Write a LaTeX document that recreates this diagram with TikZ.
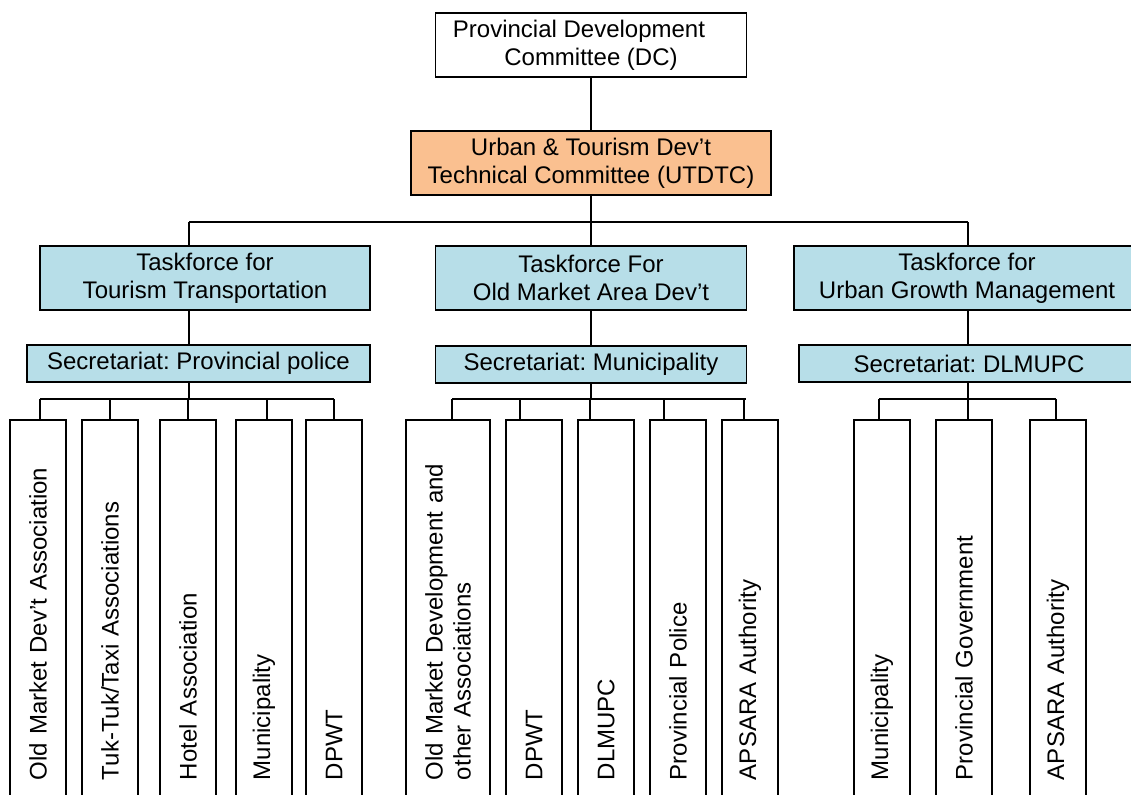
\documentclass[tikz,border=0pt]{standalone}
\usepackage{fontspec}
\setmainfont{Liberation Sans}
\usepackage{tikz}
\usetikzlibrary{positioning}

\definecolor{utdtcorange}{HTML}{FAC090}
\definecolor{tfblue}{HTML}{B7DEE8}
\frenchspacing

\begin{document}
\begin{tikzpicture}[x=0.5pt,y=-0.5pt,font=\fontsize{12}{14}\selectfont]
    \tikzset{
      box/.style={draw, line width=0.9pt, align=center, inner sep=0pt},
      tf/.style={box, fill=tfblue, minimum height=32pt},
      sec/.style={box, fill=tfblue, minimum height=18.5pt},
      member/.style={draw, line width=0.9pt, rotate=90, align=left, minimum height=28pt,
        inner xsep=15pt, inner ysep=1pt, text width=165pt},
      link/.style={line width=0.9pt}
    }
    \useasboundingbox (0,0) rectangle (1131,794);
    \clip (0,0) rectangle (1131,794);

    % committees
    \node[box, minimum width=155.5pt, minimum height=32pt] (dc) at (591,45)
      {Provincial Development\hspace*{12pt}\\Committee (DC)};
    \node[box, fill=utdtcorange, minimum width=180pt, minimum height=32pt, below=26pt of dc] (utdtc)
      {Urban \& Tourism Dev’t\\Technical Committee (UTDTC)};

    % taskforces and their secretariats
    \node[tf, minimum width=165pt] (tf1) at (205,278) {Taskforce for\\Tourism Transportation};
    \node[tf, minimum width=155.5pt] (tf2) at (591,278) {Taskforce For\\Old Market Area Dev’t};
    \node[tf, minimum width=173pt] (tf3) at (967,278) {Taskforce for\\Urban Growth Management};
    \node[sec, minimum width=171.5pt] (sec1) at (198.5,363.5) {Secretariat: Provincial police};
    \node[sec, minimum width=155.5pt, below=17pt of tf2] (sec2) {Secretariat: Municipality};
    \node[sec, minimum width=170pt] (sec3) at (969,363.5) {Secretariat: DLMUPC};

    % members
    \foreach \n/\x/\t in {o11/38/{Old Market Dev’t Association}, o12/110/{Tuk-Tuk/Taxi Associations},
        o13/188/{Hotel Association}, o14/264/{Municipality}, o15/334/{DPWT},
        o22/534/{DPWT}, o23/606/{DLMUPC}, o24/678/{Provincial Police}, o25/750/{APSARA Authority},
        o31/882/{Municipality}, o32/964/{Provincial Government}, o33/1058/{APSARA Authority}}
      \node[member] (\n) at (\x,615) {\t};
    \node[member, minimum height=42pt] (o21) at (448,615)
      {Old Market Development and\\other Associations};

    % connectors
    \coordinate (j1) at (189,222);
    \coordinate (j2) at (591,222);
    \coordinate (j3) at (968,222);
    \coordinate (k1) at (189,399);
    \coordinate (k2) at (591,399);
    \coordinate (k3) at (968,399);
    \draw[link] (dc) -- (utdtc);
    \draw[link] (utdtc) -- (j2);
    \draw[link] (j1) -- (j3);
    \foreach \c/\t/\s in {1/tf1/sec1, 2/tf2/sec2, 3/tf3/sec3} {
      \draw[link] (j\c) -- (j\c |- \t.north);
      \draw[link] (j\c |- \t.south) -- (j\c |- \s.north);
      \draw[link] (j\c |- \s.south) -- (k\c);
    }
    \draw[link] ([xshift=1pt]o11.east |- k1) -- (o15.east |- k1);
    \draw[link] ([xshift=2pt]o21.east |- k2) -- ([xshift=-2pt]o25.east |- k2);
    \draw[link] ([xshift=-1.5pt]o31.east |- k3) -- ([xshift=-1pt]o33.east |- k3);
    \foreach \n/\dx/\k in {o11/1/k1, o12/0/k1, o13/0/k1, o14/1.5/k1, o15/0/k1,
        o21/2/k2, o22/-7/k2, o23/-8/k2, o24/-7/k2, o25/-3/k2,
        o31/-1.5/k3, o32/2/k3, o33/-1/k3}
      \draw[link] ([xshift=\dx pt]\n.east |- \k) -- ([xshift=\dx pt]\n.east);
  \end{tikzpicture}
\end{document}
